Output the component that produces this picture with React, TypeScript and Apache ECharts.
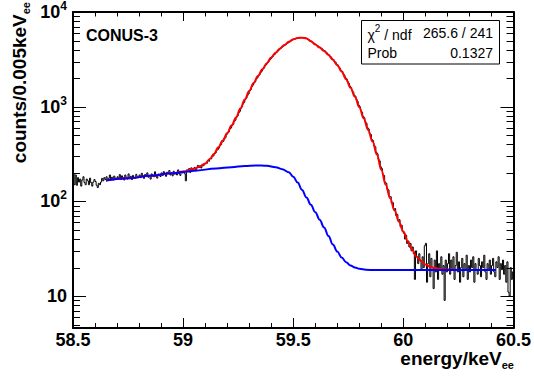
import React, { useEffect, useRef } from "react";
import * as echarts from "echarts";

// ---------- data ----------
const binStart = 58.5; // keV, low edge of first bin
const binWidth = 0.005; // keV
const histCounts = [
  195, 150, 190, 148, 178, 160, 172, 145, 168, 182, 158, 150, 172, 165, 150, 176, 158, 145, 160, 170,
  162, 148, 140, 155, 150, 160, 175, 165, 178, 170, 182, 168, 175, 190, 172, 180, 168, 185, 176, 170,
  182, 175, 192, 170, 186, 178, 168, 190, 180, 172, 195, 176, 184, 170, 188, 180, 175, 193, 182, 178,
  190, 178, 198, 184, 175, 192, 186, 200, 180, 188, 172, 195, 186, 182, 205, 184, 176, 194, 188, 183,
  200, 188, 206, 192, 184, 203, 196, 212, 190, 198, 186, 208, 194, 202, 190, 215, 197, 188, 205, 200,
  208, 196, 165, 215, 205, 222, 202, 226, 214, 220, 228, 210, 226, 240, 228, 236, 225, 246, 238, 252,
  255, 252, 268, 265, 283, 281, 300, 302, 322, 325, 348, 352, 365, 392, 398, 425, 432, 465, 472, 508,
  530, 542, 582, 595, 640, 652, 700, 720, 775, 800, 860, 892, 962, 998, 1070, 1112, 1198, 1236, 1315, 1372,
  1475, 1520, 1635, 1690, 1790, 1842, 1965, 2018, 2125, 2190, 2305, 2372, 2495, 2560, 2705, 2778, 2900, 2970, 3105, 3185,
  3330, 3400, 3525, 3590, 3735, 3800, 3955, 4010, 4140, 4200, 4335, 4380, 4505, 4550, 4675, 4730, 4860, 4910, 5030, 5060,
  5170, 5180, 5265, 5260, 5330, 5310, 5370, 5335, 5380, 5320, 5345, 5270, 5265, 5140, 5090, 4950, 4890, 4770, 4730, 4590,
  4535, 4420, 4380, 4265, 4225, 4100, 4060, 3935, 3890, 3760, 3710, 3580, 3525, 3390, 3335, 3200, 3140, 3005, 2945, 2810,
  2750, 2620, 2550, 2420, 2360, 2225, 2150, 2020, 1965, 1835, 1770, 1655, 1598, 1485, 1425, 1328, 1285, 1188, 1135, 1040,
  1000, 915, 875, 795, 765, 690, 668, 600, 582, 520, 508, 450, 438, 388, 378, 330, 318, 278, 268, 232,
  222, 192, 188, 160, 155, 134, 132, 112, 112, 96, 97, 82, 84, 71, 73, 62, 64, 54, 56, 48,
  46, 40, 44, 36, 38, 33, 36, 30, 33, 28, 15, 30, 26, 22, 28, 24, 19, 26, 20, 34,
  36, 14, 22, 28, 16, 25, 20, 12, 24, 18, 30, 15, 22, 19, 26, 17, 21, 9, 24, 18,
  22, 28, 17, 24, 19, 26, 15, 21, 29, 18, 23, 14, 20, 25, 16, 22, 19, 27, 15, 21,
  18, 24, 20, 26, 14, 22, 19, 17, 25, 21, 16, 23, 20, 27, 18, 15, 22, 19, 24, 17,
  21, 25, 18, 16, 23, 20, 26, 15, 22, 19, 24, 17, 21, 14, 23, 11, 10, 20, 15, 18,
];

const fitEnergy = [
  58.65, 58.75, 58.85, 58.95, 59.0, 59.05, 59.08, 59.1, 59.12, 59.14, 59.16, 59.18, 59.2, 59.22, 59.24,
  59.26, 59.28, 59.3, 59.32, 59.34, 59.36, 59.38, 59.4, 59.42, 59.44, 59.46, 59.48, 59.5, 59.52, 59.54,
  59.56, 59.58, 59.6, 59.62, 59.64, 59.66, 59.68, 59.7, 59.72, 59.74, 59.76, 59.78, 59.8, 59.82, 59.84,
  59.86, 59.88, 59.9, 59.92, 59.94, 59.96, 59.98, 60.0, 60.02, 60.04, 60.06, 60.08, 60.1, 60.13, 60.17,
  60.25, 60.42,
];
const fitTotal = [
  166, 175, 186, 198, 207, 221, 236, 250, 279, 316, 372, 439, 525, 631, 767,
  955, 1189, 1462, 1778, 2113, 2483, 2884, 3311, 3715, 4121, 4487, 4842, 5152, 5309, 5358,
  5260, 4900, 4540, 4207, 3873, 3508, 3126, 2735, 2344, 1950, 1585, 1274, 989, 750, 569,
  429, 310, 215, 150, 108, 80, 61, 48, 38, 31, 26, 23.5, 21.5, 20, 19.3,
  18.9, 18.8,
];

const bkgEnergy = [
  58.65, 58.75, 58.85, 58.95, 59.0, 59.05, 59.15, 59.22, 59.28, 59.33, 59.38, 59.42, 59.45, 59.48, 59.5,
  59.52, 59.54, 59.56, 59.58, 59.6, 59.62, 59.64, 59.66, 59.68, 59.7, 59.72, 59.74, 59.76, 59.78, 59.8,
  59.83, 59.87, 60.42,
];
const bkgValues = [
  166, 175, 186, 198, 204, 211, 222, 230, 237, 240, 238, 230, 219, 203, 182,
  158, 132, 110, 92, 77, 64, 53, 43, 35, 29.5, 25.5, 22.8, 21, 20, 19.4,
  19, 18.8, 18.8,
];

// ---------- axes ----------
const xMin = 58.5;
const xMax = 60.5;
const xMajorStep = 0.5;
const xMajorTicks = [58.5, 59, 59.5, 60, 60.5];
const xMinorTicks = [
  58.6, 58.7, 58.8, 58.9, 59.1, 59.2, 59.3, 59.4, 59.6, 59.7, 59.8, 59.9, 60.1, 60.2, 60.3, 60.4,
];
const yMin = 4.6;
const yMax = 10000;
const yMajorValues = [10, 100, 1000, 10000];
const yMajorLabels = ["10", "10{sup|2}", "10{sup|3}", "10{sup|4}"];
const yMinorValues = [
  5, 6, 7, 8, 9, 20, 30, 40, 50, 60, 70, 80, 90, 200, 300, 400, 500, 600, 700, 800, 900,
  2000, 3000, 4000, 5000, 6000, 7000, 8000, 9000,
];

const statsRows = [
  { label: "{t|χ}{sup|2}{t| / ndf}", value: "265.6 / 241" },
  { label: "Prob", value: "0.1327" },
];
const plotLabel = "CONUS-3";

const FONT = "'Liberation Sans', Arial, Helvetica, sans-serif";
const BLACK = "#000";

export default function App() {
  const ref = useRef<HTMLDivElement>(null);

  useEffect(() => {
    document.body.style.margin = "0";
    if (!ref.current) return;
    const chart = echarts.init(ref.current, undefined, { renderer: "svg" });

    // histogram outline: each bin drawn from its low edge to its high edge
    const histData: number[][] = [];
    histCounts.forEach((v, i) => {
      const lo = Math.round((binStart + i * binWidth) * 1000) / 1000;
      const hi = Math.round((binStart + (i + 1) * binWidth) * 1000) / 1000;
      histData.push([lo, v], [hi, v]);
    });
    const fitData = fitEnergy.map((x, i) => [x, fitTotal[i]]);
    const bkgData = bkgEnergy.map((x, i) => [x, bkgValues[i]]);

    // tick marks placed through the chart's own scales (value, anchor, length)
    const xTickData = [
      ...xMajorTicks.map((v) => [v, yMax, 10]),
      ...xMinorTicks.map((v) => [v, yMax, 5]),
    ];
    const yTickData = [
      ...yMajorValues.map((v) => [xMin, v, 13]),
      ...yMinorValues.map((v) => [xMin, v, 7]),
    ];

    const titleRich = {
      m: { fontFamily: FONT, fontWeight: "bold", fontSize: 19, lineHeight: 24, fill: BLACK, verticalAlign: "middle" },
      s: { fontFamily: FONT, fontWeight: "bold", fontSize: 11, lineHeight: 11, fill: BLACK, verticalAlign: "bottom" },
    };

    const yLabelFormatter = (v: number) => {
      const idx = yMajorValues.findIndex((m) => Math.abs(Math.log10(m) - Math.log10(v)) < 1e-6);
      return idx >= 0 ? yMajorLabels[idx] : "";
    };

    const tickLine = (x1: number, y1: number, x2: number, y2: number) => ({
      type: "line",
      shape: { x1, y1, x2, y2 },
      style: { stroke: BLACK, lineWidth: 1 },
      silent: true,
    });

    const option: any = {
      animation: false,
      backgroundColor: "#fff",
      grid: { left: 73, top: 12, right: 19, bottom: 48 },
      xAxis: [
        {
          type: "value",
          position: "bottom",
          min: xMin,
          max: xMax,
          interval: xMajorStep,
          axisLine: { onZero: false, lineStyle: { color: BLACK, width: 2 } },
          axisTick: { show: false },
          axisLabel: { color: BLACK, fontFamily: FONT, fontWeight: "bold", fontSize: 18, margin: 3 },
          splitLine: { show: false },
        },
        {
          type: "value",
          position: "top",
          min: xMin,
          max: xMax,
          interval: xMajorStep,
          axisLine: { onZero: false, lineStyle: { color: BLACK, width: 2 } },
          axisTick: { show: false },
          axisLabel: { show: false },
          splitLine: { show: false },
        },
      ],
      yAxis: [
        {
          type: "log",
          logBase: 10,
          position: "left",
          min: yMin,
          max: yMax,
          axisLine: { onZero: false, lineStyle: { color: BLACK, width: 2 } },
          axisTick: { show: false },
          axisLabel: {
            customValues: yMajorValues,
            color: BLACK,
            fontFamily: FONT,
            fontWeight: "bold",
            fontSize: 18,
            lineHeight: 24,
            margin: 6,
            formatter: yLabelFormatter,
            rich: {
              sup: { fontFamily: FONT, fontWeight: "bold", fontSize: 12, lineHeight: 10, verticalAlign: "top", color: BLACK },
            },
          },
          splitLine: { show: false },
        },
        {
          type: "log",
          logBase: 10,
          position: "right",
          min: yMin,
          max: yMax,
          axisLine: { onZero: false, lineStyle: { color: BLACK, width: 2 } },
          axisTick: { show: false },
          axisLabel: { show: false },
          splitLine: { show: false },
        },
      ],
      series: [
        {
          type: "line",
          name: "data",
          xAxisIndex: 0,
          yAxisIndex: 0,
          data: histData,
          symbol: "none",
          silent: true,
          lineStyle: { color: BLACK, width: 1 },
          z: 2,
        },
        {
          type: "line",
          name: "fit",
          xAxisIndex: 0,
          yAxisIndex: 0,
          data: fitData,
          smooth: 0.4,
          smoothMonotone: "x",
          symbol: "none",
          silent: true,
          lineStyle: { color: "#ff0000", width: 2 },
          z: 3,
        },
        {
          type: "line",
          name: "background",
          xAxisIndex: 0,
          yAxisIndex: 0,
          data: bkgData,
          smooth: 0.4,
          smoothMonotone: "x",
          symbol: "none",
          silent: true,
          lineStyle: { color: "#0000ff", width: 2 },
          z: 4,
        },
        {
          type: "custom",
          name: "xTicks",
          xAxisIndex: 0,
          yAxisIndex: 0,
          data: xTickData,
          encode: { x: 0, y: 1 },
          clip: false,
          silent: true,
          z: 6,
          renderItem: (_params: any, api: any) => {
            const v = api.value(0);
            const len = api.value(2);
            const b = api.coord([v, yMin]);
            const t = api.coord([v, yMax]);
            const x = Math.round(b[0]) + 0.5;
            return {
              type: "group",
              children: [tickLine(x, b[1], x, b[1] - len), tickLine(x, t[1], x, t[1] + len * 0.9)],
            };
          },
        },
        {
          type: "custom",
          name: "yTicks",
          xAxisIndex: 0,
          yAxisIndex: 0,
          data: yTickData,
          encode: { x: 0, y: 1 },
          clip: false,
          silent: true,
          z: 6,
          renderItem: (_params: any, api: any) => {
            const v = api.value(1);
            const len = api.value(2);
            const l = api.coord([xMin, v]);
            const r = api.coord([xMax, v]);
            const y = Math.round(l[1]) + 0.5;
            return {
              type: "group",
              children: [tickLine(l[0], y, l[0] + len, y), tickLine(r[0], y, r[0] - len, y)],
            };
          },
        },
      ],
      graphic: [
        {
          type: "text",
          x: 86,
          y: 35,
          z: 10,
          style: {
            text: plotLabel,
            fill: BLACK,
            fontFamily: FONT,
            fontWeight: "bold",
            fontSize: 16,
            align: "left",
            verticalAlign: "middle",
          },
        },
        {
          type: "rect",
          z: 10,
          shape: { x: 361.5, y: 20.5, width: 138, height: 43.5 },
          style: { fill: "#fff", stroke: BLACK, lineWidth: 1 },
        },
        ...statsRows.flatMap((row, i) => [
          {
            type: "text",
            z: 11,
            x: 367.5,
            y: 32.5 + i * 20.5,
            style: {
              text: row.label,
              fill: BLACK,
              fontFamily: FONT,
              fontSize: 14,
              align: "left",
              verticalAlign: "middle",
              rich: {
                t: { fontFamily: FONT, fontSize: 14, fill: BLACK, lineHeight: 18, verticalAlign: "bottom" },
                sup: { fontFamily: FONT, fontSize: 10, fill: BLACK, lineHeight: 10, verticalAlign: "top" },
              },
            },
          },
          {
            type: "text",
            z: 11,
            x: 493,
            y: 32.5 + i * 20.5,
            style: {
              text: row.value,
              fill: BLACK,
              fontFamily: FONT,
              fontSize: 14,
              align: "right",
              verticalAlign: "middle",
            },
          },
        ]),
        {
          type: "text",
          z: 10,
          x: 19.5,
          y: 2,
          rotation: Math.PI / 2,
          style: {
            text: "{m|counts/0.005keV}{s|ee}",
            align: "right",
            verticalAlign: "middle",
            rich: titleRich,
          },
        },
        {
          type: "text",
          z: 10,
          x: 514,
          y: 358.5,
          style: {
            text: "{m|energy/keV}{s|ee}",
            align: "right",
            verticalAlign: "middle",
            rich: titleRich,
          },
        },
      ],
    };

    chart.setOption(option);
    return () => {
      chart.dispose();
    };
  }, []);

  return (
    <div
      ref={ref}
      style={{ position: "fixed", left: 0, top: 0, width: 534, height: 376, background: "#fff" }}
    />
  );
}
